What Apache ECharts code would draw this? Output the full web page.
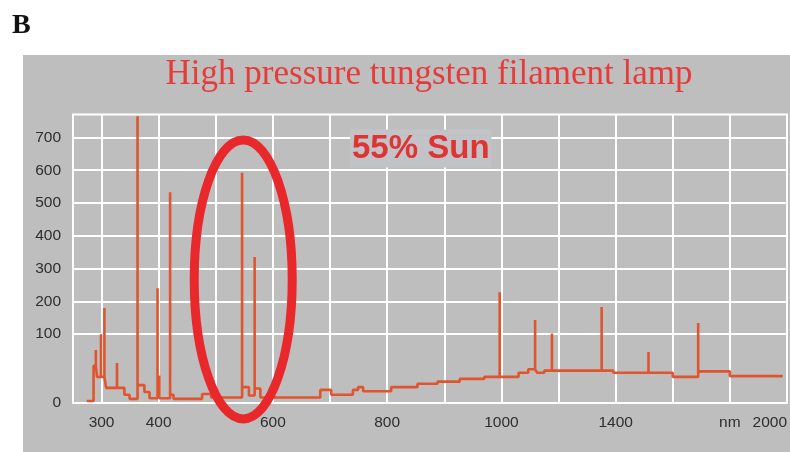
<!DOCTYPE html>
<html>
<head>
<meta charset="utf-8">
<script src="https://cdn.jsdelivr.net/npm/echarts@6/dist/echarts.min.js"></script>
<style>
  html, body { margin: 0; padding: 0; background: #ffffff; }
  #chart { width: 790px; height: 452px; }
</style>
</head>
<body>
<div id="chart"></div>
<script>
// Continuum of the lamp: each level starts at stepNm[i] and holds until stepNm[i + 1]
const stepNm  = [274, 286, 292, 308, 340, 349, 363, 375, 384, 420, 426, 476, 492, 546, 558, 568, 578, 683, 702, 740, 749, 758, 807, 853, 888, 927, 970, 1000, 1060, 1094, 1125, 1150, 1392, 1600, 1689, 1800, 1985];
const stepVal = [3,   54,  38,  22,  12,  6,   26,  16,  7,   12,  6,   13,  8,   23,  11,  21,  8,   19,  12,  19,  23,  17,  23,  28,  31,  35,  38,  38,   44,   49,   44,   47,   44,   38,   46,   39,   39];

// Emission lines (nm) and their peak intensity
const lineNm  = [290, 299, 305, 327, 363, 398, 401, 420, 546, 568, 997, 1118, 1177, 1351, 1515, 1689];
const lineVal = [77,  100, 180, 58,  765, 240, 40,  533, 592, 335, 228, 143,  102,  183,  74,   134];

// Axis ticks
const xGridNm    = [300, 400, 500, 600, 700, 800, 900, 1000, 1200, 1400, 1600, 1800];
const xLabelNm   = [300, 400, 600, 800, 1000, 1400, 1800, 2000];
const xLabelText = ['300', '400', '600', '800', '1000', '1400', 'nm', '2000'];
const yLabelVal  = [0, 100, 200, 300, 400, 500, 600, 700];

// Piecewise wavelength scale: 100 nm per cell up to 1000 nm, 200 nm per cell beyond
function toX(nm) {
  return nm <= 1000 ? (nm - 250) / 100 : 7.5 + (nm - 1000) / 200;
}
// Piecewise intensity scale: 0-100 stretched over 2.1 cells, then 100 per cell
function toY(v) {
  return v <= 100 ? v * 0.021 : 2.1 + (v - 100) / 100;
}

// Build the spectrum polyline from the continuum steps with the lines rising out of it
function buildSpectrum() {
  const pts = [];
  let li = 0;
  for (let i = 0; i < stepNm.length - 1; i++) {
    const a = stepNm[i], b = stepNm[i + 1], c = stepVal[i];
    pts.push([a, c]);
    while (li < lineNm.length && lineNm[li] < b) {
      if (lineNm[li] >= a) {
        pts.push([lineNm[li], c], [lineNm[li], lineVal[li]], [lineNm[li], c]);
      }
      li++;
    }
    pts.push([b, c]);
  }
  return pts.map(p => [toX(p[0]), toY(p[1])]);
}

function nearestIndex(arr, v) {
  let best = 0;
  for (let i = 1; i < arr.length; i++) {
    if (Math.abs(arr[i] - v) < Math.abs(arr[best] - v)) best = i;
  }
  return best;
}

const xLabelPos = xLabelNm.map(toX);
const yLabelPos = yLabelVal.map(toY);

const chart = echarts.init(document.getElementById('chart'), null, { renderer: 'canvas' });

const labelFont = { color: '#2e2e2e', fontFamily: '"Liberation Sans", Arial, sans-serif', fontSize: 15.5 };

chart.setOption({
  animation: false,
  backgroundColor: '#ffffff',
  grid: {
    left: 73, top: 114.5, right: 0, bottom: 49,
    show: true,
    backgroundColor: 'transparent',
    borderColor: '#ffffff',
    borderWidth: 2
  },
  xAxis: {
    type: 'value',
    min: 0, max: 12.5,
    axisLine: { show: false },
    axisTick: { show: false, customValues: xGridNm.map(toX) },
    splitLine: { show: true, lineStyle: { color: '#ffffff', width: 2 } },
    axisLabel: Object.assign({
      customValues: xLabelPos,
      margin: 12,
      alignMaxLabel: 'right',
      formatter: v => xLabelText[nearestIndex(xLabelPos, v)]
    }, labelFont)
  },
  yAxis: {
    type: 'value',
    min: 0, max: 8.8,
    axisLine: { show: false },
    axisTick: { show: false, customValues: yLabelPos },
    splitLine: { show: true, lineStyle: { color: '#ffffff', width: 2 } },
    axisLabel: Object.assign({
      customValues: yLabelPos,
      margin: 12,
      formatter: v => String(yLabelVal[nearestIndex(yLabelPos, v)])
    }, labelFont)
  },
  series: [{
    type: 'line',
    data: buildSpectrum(),
    showSymbol: false,
    symbol: 'none',
    lineStyle: { color: '#e0542e', width: 2.6, join: 'bevel' },
    z: 3
  }],
  graphic: [
    {
      type: 'rect', z: -10,
      shape: { x: 23, y: 55, width: 780, height: 410 },
      style: { fill: '#bebebe' }
    },
    {
      type: 'text', z: 10,
      style: {
        text: 'B', x: 12, y: 25.5, verticalAlign: 'middle',
        font: 'bold 28px "Liberation Serif", "Times New Roman", serif', fill: '#111111'
      }
    },
    {
      type: 'text', z: 10,
      style: {
        text: 'High pressure tungsten filament lamp', x: 429, y: 74.5,
        align: 'center', verticalAlign: 'middle',
        font: '35px "Liberation Serif", "Times New Roman", serif', fill: '#e63b3b'
      }
    },
    {
      type: 'text', z: 10,
      style: {
        text: '55% Sun', x: 350, y: 148.6, verticalAlign: 'middle',
        font: 'bold 33px "Liberation Sans", Arial, sans-serif', fill: '#e03333',
        backgroundColor: '#c2c3c7', padding: [3, 2, 2, 2]
      }
    }
  ]
});

// Highlight ring around the 546/578 nm lines, anchored in data space
const centre = chart.convertToPixel({ gridIndex: 0 }, [toX(548), toY(267)]);
chart.setOption({
  graphic: [{
    id: 'ring', type: 'ellipse', z: 20,
    shape: { cx: centre[0], cy: centre[1], rx: 49, ry: 139.5 },
    style: { fill: 'none', stroke: '#e8282b', lineWidth: 9 }
  }]
});
</script>
</body>
</html>
